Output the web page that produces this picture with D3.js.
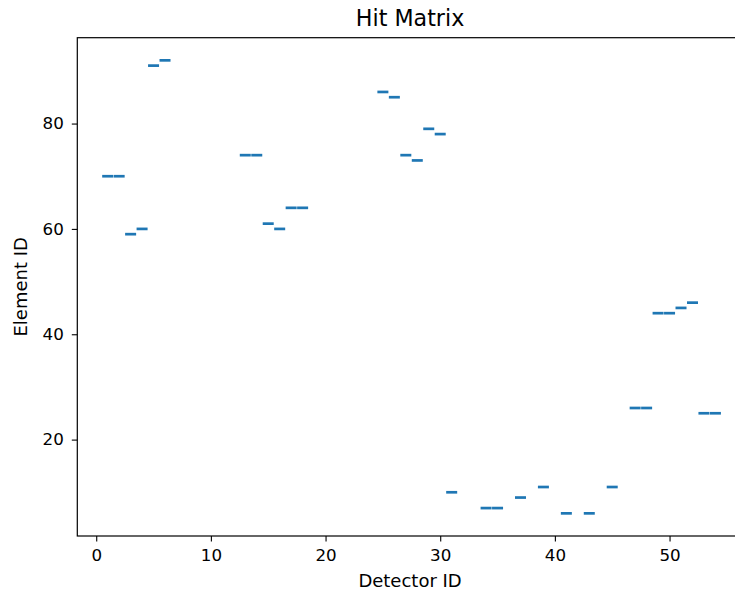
<!DOCTYPE html>
<html>
<head>
<meta charset="utf-8">
<script src="https://cdn.jsdelivr.net/npm/d3@7"></script>
<style>
  html, body { margin: 0; padding: 0; background: #fff; }
  svg { display: block; font-family: "DejaVu Sans", sans-serif; }
</style>
</head>
<body>
<svg id="chart" width="735" height="595"></svg>
<script>
// Hits: detector id and the element id it fired on
const detectorIds = [1, 2, 3, 4, 5, 6, 13, 14, 15, 16, 17, 18, 25, 26, 27, 28, 29, 30,
                     31, 34, 35, 37, 39, 41, 43, 45, 47, 48, 49, 50, 51, 52, 53, 54];
const elementIds  = [70, 70, 59, 60, 91, 92, 74, 74, 61, 60, 64, 64, 86, 85, 74, 73, 79, 78,
                     10, 7, 7, 9, 11, 6, 6, 11, 26, 26, 44, 44, 45, 46, 25, 25];
const xTicks = [0, 10, 20, 30, 40, 50];
const yTicks = [20, 40, 60, 80];

(function () {
  const svg = d3.select("#chart");
  const plotLeft = 77.3, plotTop = 37.7, plotRight = 745.8, plotBottom = 536;

  // 5% padding around the data extent on both axes
  const xMin = d3.min(detectorIds), xMax = d3.max(detectorIds);
  const yMin = d3.min(elementIds), yMax = d3.max(elementIds);
  const xPad = (xMax - xMin) * 0.05, yPad = (yMax - yMin) * 0.05;

  const x = d3.scaleLinear().domain([xMin - xPad, xMax + xPad]).range([plotLeft, plotRight]);
  const y = d3.scaleLinear().domain([yMin - yPad, yMax + yPad]).range([plotBottom, plotTop]);

  const tickLen = 5.5;

  // hit markers: short horizontal dashes centred on each detector
  const halfW = 0.48;
  svg.append("g")
    .selectAll("line")
    .data(detectorIds.map((d, i) => ({ d, e: elementIds[i] })))
    .join("line")
    .attr("x1", p => x(p.d - halfW))
    .attr("x2", p => x(p.d + halfW))
    .attr("y1", p => y(p.e))
    .attr("y2", p => y(p.e))
    .attr("stroke", "#1f77b4")
    .attr("stroke-width", 2.7);

  // axes
  const xAxis = svg.append("g")
    .attr("transform", `translate(0,${plotBottom})`)
    .call(d3.axisBottom(x).tickValues(xTicks).tickFormat(d3.format("d"))
          .tickSize(tickLen).tickPadding(8).tickSizeOuter(0));
  const yAxis = svg.append("g")
    .attr("transform", `translate(${plotLeft},0)`)
    .call(d3.axisLeft(y).tickValues(yTicks).tickFormat(d3.format("d"))
          .tickSize(tickLen).tickPadding(8).tickSizeOuter(0));

  [xAxis, yAxis].forEach(g => {
    g.select(".domain").remove();
    g.selectAll(".tick line").attr("stroke", "#000").attr("stroke-width", 1.1);
    g.selectAll(".tick text")
      .attr("fill", "#000")
      .style("font-family", "'DejaVu Sans', sans-serif")
      .style("font-size", "16.7px");
  });

  // frame
  svg.append("rect")
    .attr("x", plotLeft).attr("y", plotTop)
    .attr("width", plotRight - plotLeft).attr("height", plotBottom - plotTop)
    .attr("fill", "none").attr("stroke", "#000").attr("stroke-width", 1.2);

  // title and axis labels
  const cx = (plotLeft + plotRight) / 2;
  svg.append("text")
    .attr("x", cx - 1.5).attr("y", 26)
    .attr("text-anchor", "middle")
    .style("font-size", "22.2px")
    .text("Hit Matrix");

  svg.append("text")
    .attr("x", cx - 1.5).attr("y", 587)
    .attr("text-anchor", "middle")
    .style("font-size", "18px")
    .text("Detector ID");

  svg.append("text")
    .attr("transform", `translate(27,${(plotTop + plotBottom) / 2}) rotate(-90)`)
    .attr("text-anchor", "middle")
    .style("font-size", "18px")
    .text("Element ID");
})();
</script>
</body>
</html>
